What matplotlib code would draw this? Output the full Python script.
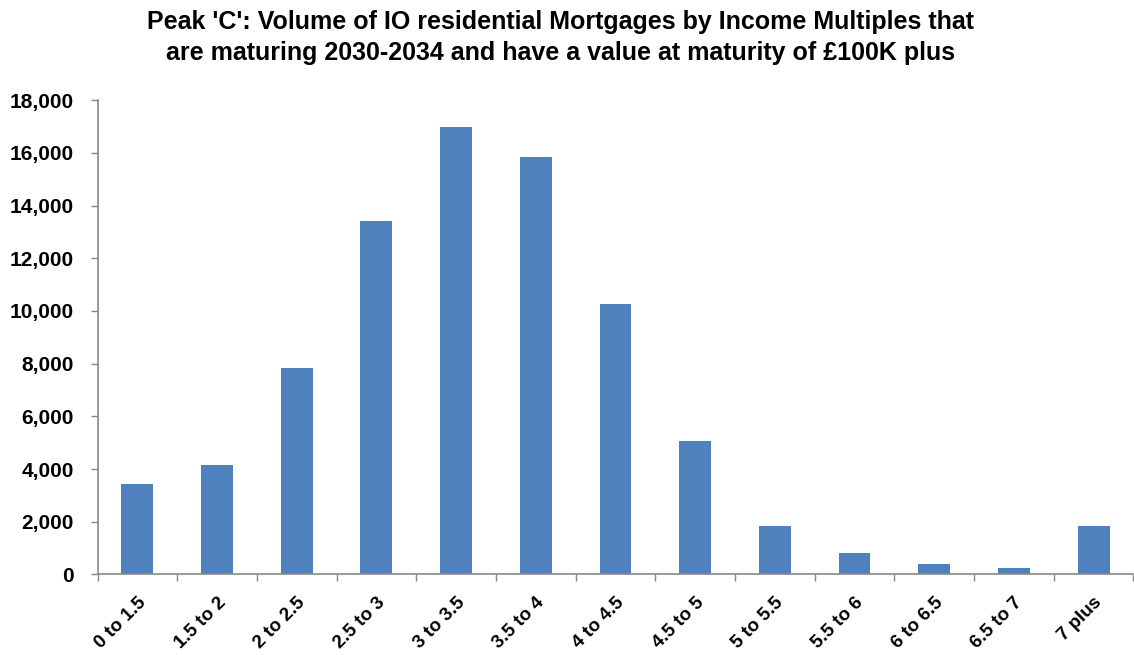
import numpy as np
import matplotlib.pyplot as plt
from matplotlib.ticker import FuncFormatter

# income multiple bands and mortgage volumes
bands = ['0 to 1.5', '1.5 to 2', '2 to 2.5', '2.5 to 3', '3 to 3.5', '3.5 to 4',
         '4 to 4.5', '4.5 to 5', '5 to 5.5', '5.5 to 6', '6 to 6.5', '6.5 to 7', '7 plus']
volumes = [3450, 4150, 7850, 13400, 17000, 15850, 10250, 5050, 1850, 800, 380, 230, 1850]

plt.rcParams['font.family'] = ['Liberation Sans', 'DejaVu Sans']

fig = plt.figure(figsize=(11.34, 6.55), dpi=100)
ax = fig.add_axes([0.086, 0.123, 0.9135, 0.724])

x = np.arange(len(bands))
ax.bar(x, volumes, width=0.4, color='#4F81BD', zorder=2)

ax.set_xlim(-0.5, len(bands) - 0.5)
ax.set_ylim(0, 18000)
ax.set_yticks(range(0, 18001, 2000))
ax.yaxis.set_major_formatter(FuncFormatter(lambda v, p: f'{int(v):,}'))

# category labels sit between boundary ticks, like Excel
ax.set_xticks(x)
ax.set_xticklabels(bands, rotation=45, ha='right', rotation_mode='anchor',
                   fontsize=13.5, fontweight='bold')
ax.tick_params(axis='x', length=0, pad=14)
ax.set_xticks(np.arange(-0.5, len(bands), 1), minor=True)
ax.tick_params(axis='x', which='minor', length=5, color='#888888', width=1)
ax.tick_params(axis='y', length=5, color='#888888', width=1, labelsize=15, pad=12)
for lab in ax.get_yticklabels():
    lab.set_fontweight('bold')

for side in ['top', 'right']:
    ax.spines[side].set_visible(False)
for side in ['left', 'bottom']:
    ax.spines[side].set_color('#888888')
    ax.spines[side].set_linewidth(1.2)

fig.text(0.494, 0.985, "Peak 'C': Volume of IO residential Mortgages by Income Multiples that\n"
         "are maturing 2030-2034 and have a value at maturity of £100K plus",
         ha='center', va='top', fontsize=18, fontweight='bold', linespacing=1.4)

fig.savefig('out.png', dpi=100)
